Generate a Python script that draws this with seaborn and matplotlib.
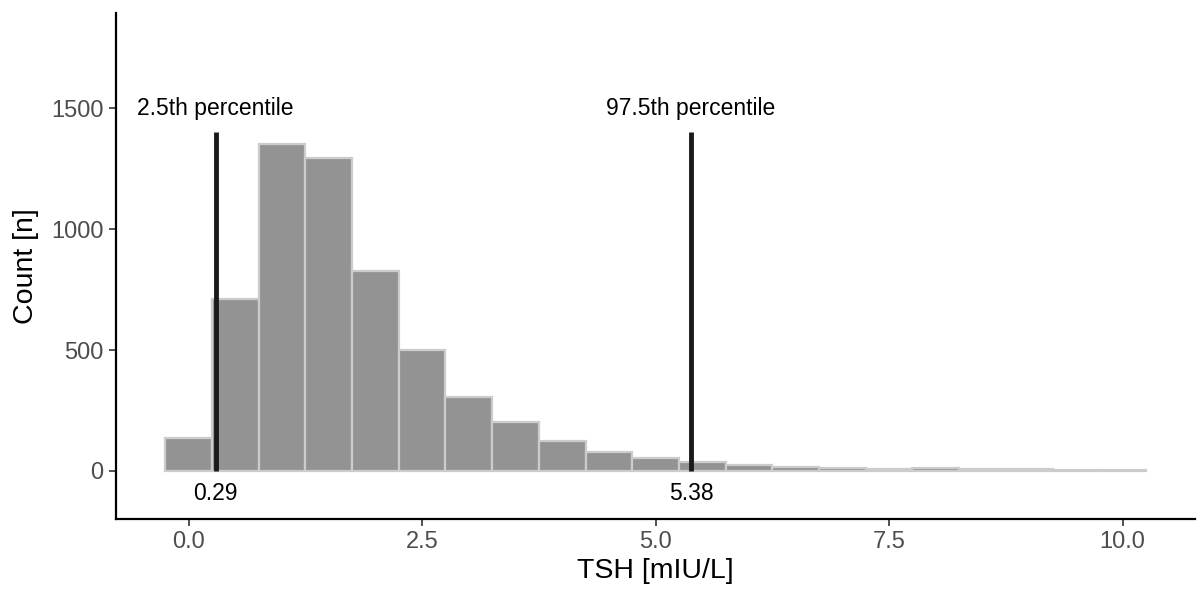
import numpy as np
import pandas as pd
import matplotlib
matplotlib.use("Agg")
import matplotlib.pyplot as plt
import seaborn as sns

# histogram bins (centre of each 0.5-wide bin) and counts
bin_centers = [0.0, 0.5, 1.0, 1.5, 2.0, 2.5, 3.0, 3.5, 4.0, 4.5, 5.0,
               5.5, 6.0, 6.5, 7.0, 7.5, 8.0, 8.5, 9.0, 9.5, 10.0]
counts = [138, 712, 1353, 1293, 825, 501, 306, 201, 122, 77, 54,
          36, 25, 18, 11, 7, 14, 7, 7, 5, 3]

percentiles = [0.29, 5.38]
percentile_names = ["2.5th percentile", "97.5th percentile"]

sns.set_style("white")
plt.rcParams["font.family"] = ["Liberation Sans", "DejaVu Sans"]

fig = plt.figure(figsize=(11.98, 5.89), dpi=100)
ax = fig.add_axes([0.097, 0.119, 0.9005, 0.859])

df = pd.DataFrame({"tsh": bin_centers, "n": counts})
sns.histplot(data=df, x="tsh", weights="n", binwidth=0.5, binrange=(-0.25, 10.25),
             ax=ax, color="#939393", edgecolor="#cccccc", linewidth=1.6, alpha=1)

for p, name in zip(percentiles, percentile_names):
    ax.plot([p, p], [0, 1400], color="#1a1a1a", linewidth=3.5, solid_capstyle="butt")
    ax.text(p, 1500, name, ha="center", va="center", fontsize=16.5, color="black")
    ax.text(p, -92, f"{p:.2f}", ha="center", va="center", fontsize=16.5, color="black")

ax.set_xlim(-0.775, 10.775)
ax.set_ylim(-198, 1893)
ax.set_xticks([0, 2.5, 5, 7.5, 10])
ax.set_xticklabels(["0.0", "2.5", "5.0", "7.5", "10.0"])
ax.set_yticks([0, 500, 1000, 1500])
ax.tick_params(axis="both", labelsize=17, labelcolor="#4d4d4d", color="#333333",
               length=5, width=1.2, left=True, bottom=True, pad=4)
ax.set_xlabel("TSH [mIU/L]", fontsize=20.5, color="black", labelpad=3)
ax.set_ylabel("Count [n]", fontsize=20.5, color="black", labelpad=9)

for side in ["top", "right"]:
    ax.spines[side].set_visible(False)
for side in ["left", "bottom"]:
    ax.spines[side].set_color("black")
    ax.spines[side].set_linewidth(1.6)

fig.savefig("out.png", dpi=100)
